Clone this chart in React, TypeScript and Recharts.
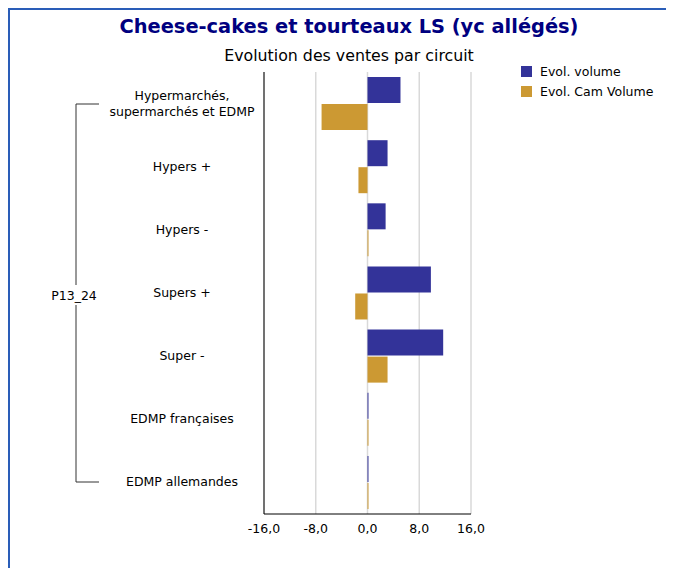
import React from 'react';
import { BarChart, Bar, XAxis, YAxis, CartesianGrid } from 'recharts';

const categories = [
  'Hypermarchés,|supermarchés et EDMP',
  'Hypers +',
  'Hypers -',
  'Supers +',
  'Super -',
  'EDMP françaises',
  'EDMP allemandes',
];
const evolVolume = [5.1, 3.1, 2.8, 9.8, 11.7, 0.15, 0.15];
const evolCamVolume = [-7.1, -1.4, 0.15, -1.9, 3.1, 0.15, 0.15];
const xTicks = [-16, -8, 0, 8, 16];
const groupLabel = 'P13_24';

const FONT = '"DejaVu Sans", Verdana, sans-serif';
const VOL_COLOR = '#333399';
const CAM_COLOR = '#CC9933';

const data = categories.map((name, i) => ({
  name,
  volume: evolVolume[i],
  cam: evolCamVolume[i],
}));

const fmt = (v: number) => v.toFixed(1).replace('.', ',');

function CategoryTick(props: any) {
  const { x, y, payload } = props;
  const lines = String(payload.value).split('|');
  const cx = x - 74;
  const startDy = -((lines.length - 1) * 16) / 2;
  return (
    <text x={cx} y={y} textAnchor="middle" fontSize={12.5} fontFamily={FONT} fill="#000">
      {lines.map((l, i) => (
        <tspan key={i} x={cx} dy={i === 0 ? startDy + 4 : 16}>
          {l}
        </tspan>
      ))}
    </text>
  );
}

export default function App() {
  return (
    <div
      style={{
        position: 'relative',
        width: 664,
        height: 558,
        borderTop: '2px solid #2a5db8',
        borderLeft: '2px solid #2a5db8',
        fontFamily: FONT,
        background: '#fff',
        overflow: 'hidden',
      }}
    >
      <div
        style={{
          position: 'absolute',
          left: 39,
          width: 600,
          top: 5,
          textAlign: 'center',
          fontSize: 19.4,
          fontWeight: 'bold',
          color: '#000080',
        }}
      >
        Cheese-cakes et tourteaux LS (yc allégés)
      </div>
      <div
        style={{
          position: 'absolute',
          left: 39,
          width: 600,
          top: 36,
          textAlign: 'center',
          fontSize: 15.8,
          color: '#000',
        }}
      >
        Evolution des ventes par circuit
      </div>

      <div style={{ position: 'absolute', left: -1, top: -1 }}>
        <BarChart
          width={662}
          height={560}
          layout="vertical"
          data={data}
          margin={{ top: 63, right: 200, left: 0, bottom: 25 }}
          barCategoryGap="8%"
          barGap={1}
        >
          <CartesianGrid horizontal={false} stroke="#d9d9d9" strokeWidth={1.5} />
          <XAxis
            type="number"
            domain={[-16, 16]}
            ticks={xTicks}
            tickFormatter={fmt}
            tick={{ fontSize: 12.5, fill: '#000', fontFamily: FONT }}
            tickLine={false}
            tickMargin={4}
            axisLine={{ stroke: '#000' }}
            height={30}
          />
          <YAxis
            type="category"
            dataKey="name"
            width={255}
            tick={<CategoryTick />}
            tickLine={false}
            axisLine={{ stroke: '#000' }}
            interval={0}
          />
          <Bar dataKey="volume" fill={VOL_COLOR} isAnimationActive={false} />
          <Bar dataKey="cam" fill={CAM_COLOR} isAnimationActive={false} />
        </BarChart>
      </div>

      {/* bracket grouping all circuits */}
      <svg
        width={120}
        height={480}
        style={{ position: 'absolute', left: -1, top: -1, overflow: 'visible' }}
      >
        <path d="M90,95 H67 V473 H90" fill="none" stroke="#333" strokeWidth={1} />
        <rect x={40} y={276} width={52} height={20} fill="#fff" />
        <text x={65} y={291} textAnchor="middle" fontSize={12.5} fontFamily={FONT} fill="#000">
          {groupLabel}
        </text>
      </svg>

      {/* legend */}
      <div style={{ position: 'absolute', left: 511, top: 51, fontSize: 12.5 }}>
        {[
          ['Evol. volume', VOL_COLOR],
          ['Evol. Cam Volume', CAM_COLOR],
        ].map(([label, c]) => (
          <div key={label} style={{ display: 'flex', alignItems: 'center', height: 20 }}>
            <span style={{ width: 11, height: 11, background: c, marginRight: 8 }} />
            <span>{label}</span>
          </div>
        ))}
      </div>
    </div>
  );
}
